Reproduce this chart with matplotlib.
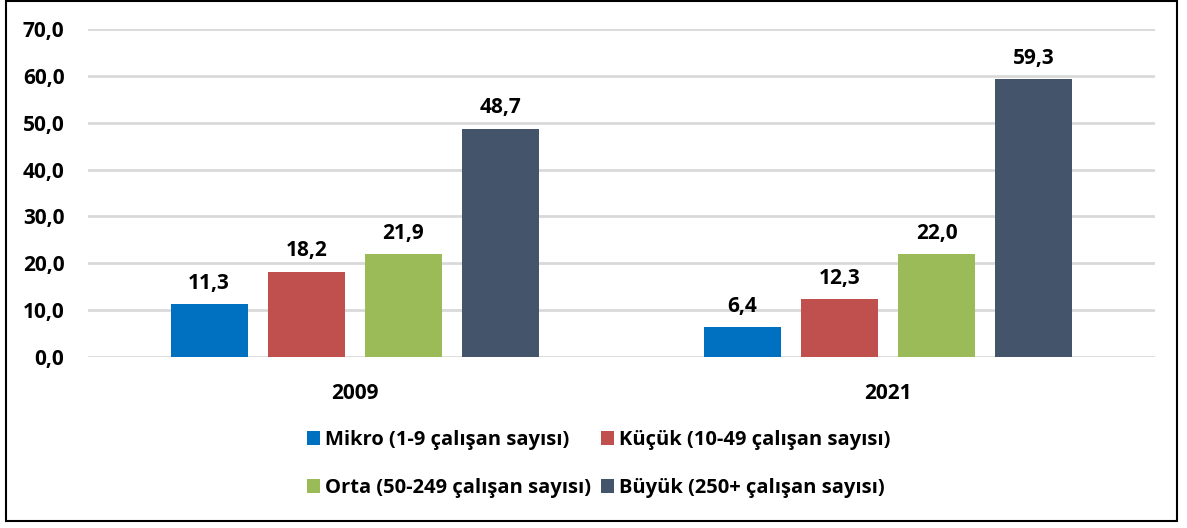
import matplotlib.pyplot as plt
from matplotlib.patches import Rectangle
import numpy as np

plt.rcParams['font.family'] = ['Open Sans', 'DejaVu Sans']
plt.rcParams['font.weight'] = 'bold'

years = ['2009', '2021']
series = ['Mikro (1-9 çalışan sayısı)', 'Küçük (10-49 çalışan sayısı)',
          'Orta (50-249 çalışan sayısı)', 'Büyük (250+ çalışan sayısı)']
values = [
    [11.3, 6.4],
    [18.2, 12.3],
    [21.9, 22.0],
    [48.7, 59.3],
]
colors = ['#0070C0', '#C0504D', '#9BBB59', '#44546A']

fig = plt.figure(figsize=(11.87, 5.28), dpi=100)
ax = fig.add_axes([88 / 1187, 1 - 357 / 528, 1067 / 1187, 328 / 528])

x = np.arange(len(years))
w = 0.144
step = 0.182
handles = []
for i, (name, vals) in enumerate(zip(series, values)):
    pos = x + (i - 1.5) * step
    b = ax.bar(pos, vals, w, color=colors[i], label=name, zorder=3)
    handles.append(b)
    for p, v in zip(pos, vals):
        ax.text(p, v + 2.2, f'{v:.1f}'.replace('.', ','), ha='center', va='bottom',
                fontsize=15, fontweight='bold')

ax.set_xlim(-0.5, 1.5)
ax.set_ylim(0, 70)
ax.set_yticks(range(0, 71, 10))
ax.set_yticklabels([f'{t:.1f}'.replace('.', ',') for t in range(0, 71, 10)],
                   fontsize=15, fontweight='bold')
ax.set_xticks(x)
ax.set_xticklabels(years, fontsize=15, fontweight='bold')
ax.tick_params(axis='both', length=0)
ax.tick_params(axis='y', pad=17)
ax.tick_params(axis='x', pad=19)
ax.grid(axis='y', color='#D9D9D9', linewidth=2, zorder=0)
for s in ax.spines.values():
    s.set_visible(False)

# legend fills column-first, so reorder to get rows Mikro/Küçük, Orta/Büyük
order = [0, 2, 1, 3]
fig.legend(handles=[handles[k] for k in order], labels=[series[k] for k in order],
           loc='center', ncol=2,
           bbox_to_anchor=(599 / 1187, 1 - 464 / 528), frameon=False,
           prop={'size': 14.5, 'weight': 'bold'}, handlelength=0.65, handleheight=0.65,
           handletextpad=0.25, columnspacing=0.5, labelspacing=1.4)

fig.patches.append(Rectangle((6 / 1187, 7 / 528), 1171 / 1187, 520 / 528,
                             transform=fig.transFigure, fill=False,
                             edgecolor='black', linewidth=1.5))

fig.savefig('out.png', dpi=100)
